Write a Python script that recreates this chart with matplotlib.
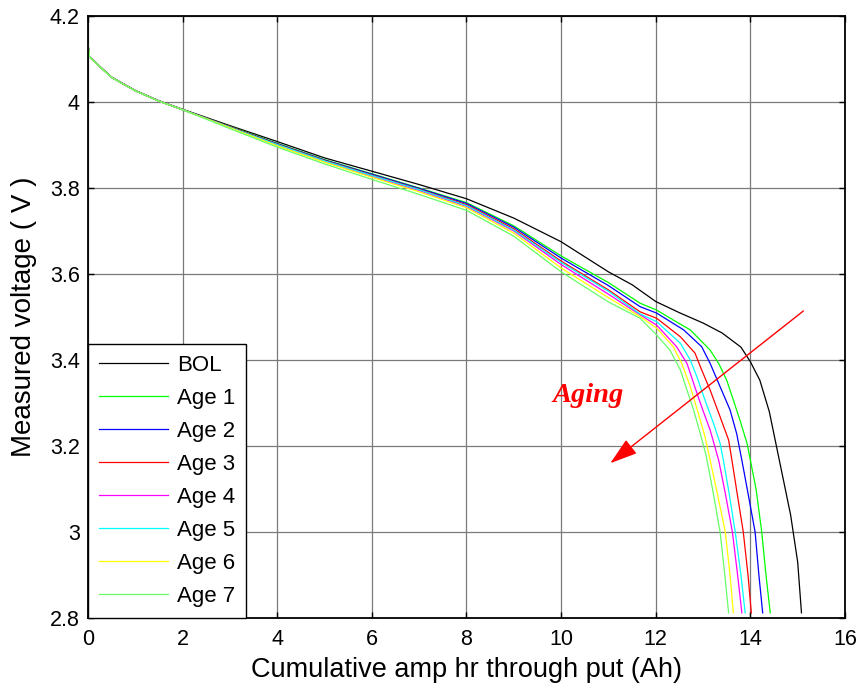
import matplotlib
matplotlib.use("Agg")
import matplotlib.pyplot as plt

plt.rcParams['font.family'] = ['Liberation Sans', 'DejaVu Sans']

# ---------------- data ----------------
x_ticks = [0, 2, 4, 6, 8, 10, 12, 14, 16]
y_ticks = [2.8, 3.0, 3.2, 3.4, 3.6, 3.8, 4.0, 4.2]
y_tick_labels = ['2.8', '3', '3.2', '3.4', '3.6', '3.8', '4', '4.2']

series_names = ['BOL', 'Age 1', 'Age 2', 'Age 3', 'Age 4', 'Age 5', 'Age 6', 'Age 7']
series_colors = ['#000000', '#00ff00', '#0000ff', '#ff0000', '#ff00ff', '#00ffff', '#ffff00', '#66ff66']

bol_x = [0, 0.03, 0.2, 0.5, 1.0, 1.5, 2.0, 3.0, 4.0, 5.0, 6.0, 7.0, 8.0, 9.0, 10.0, 11.0, 11.5,
         12.0, 12.5, 13.0, 13.4, 13.8, 14.0, 14.2, 14.4, 14.55, 14.7, 14.85, 15.0, 15.08]
bol_y = [4.135, 4.105, 4.088, 4.058, 4.027, 4.003, 3.983, 3.945, 3.908, 3.870, 3.839, 3.808, 3.775,
         3.730, 3.675, 3.605, 3.575, 3.536, 3.510, 3.486, 3.463, 3.430, 3.396, 3.353, 3.280, 3.200,
         3.120, 3.040, 2.930, 2.812]

age1_x = [0, 0.03, 0.2, 0.5, 1.0, 1.5, 2.0, 3.0, 4.0, 5.0, 6.0, 7.0, 8.0, 9.0, 10.0, 11.0, 11.67,
          12.02, 12.37, 12.73, 13.15, 13.33, 13.5, 13.64, 13.78, 13.93, 14.0, 14.12, 14.24, 14.33, 14.42]
age1_y = [4.135, 4.105, 4.087, 4.057, 4.026, 4.002, 3.982, 3.943, 3.904, 3.866, 3.833, 3.800, 3.766,
          3.712, 3.642, 3.580, 3.532, 3.516, 3.493, 3.470, 3.423, 3.392, 3.353, 3.307, 3.260, 3.206,
          3.167, 3.100, 3.000, 2.900, 2.812]

age2_x = [0, 0.03, 0.2, 0.5, 1.0, 1.5, 2.0, 3.0, 4.0, 5.0, 6.0, 7.0, 8.0, 9.0, 10.0, 11.0, 11.67,
          12.02, 12.59, 12.97, 13.15, 13.36, 13.57, 13.71, 13.82, 13.95, 14.1, 14.18, 14.26]
age2_y = [4.135, 4.105, 4.087, 4.057, 4.026, 4.002, 3.982, 3.942, 3.903, 3.865, 3.832, 3.799, 3.764,
          3.709, 3.637, 3.573, 3.524, 3.509, 3.470, 3.431, 3.392, 3.338, 3.284, 3.229, 3.167, 3.090,
          3.000, 2.900, 2.812]

age3_x = [0, 0.03, 0.2, 0.5, 1.0, 1.5, 2.0, 3.0, 4.0, 5.0, 6.0, 7.0, 8.0, 9.0, 10.0, 11.0, 11.67,
          12.02, 12.52, 12.83, 12.97, 13.15, 13.36, 13.54, 13.61, 13.72, 13.85, 13.95, 14.02]
age3_y = [4.135, 4.105, 4.087, 4.057, 4.026, 4.002, 3.982, 3.942, 3.902, 3.864, 3.830, 3.797, 3.761,
          3.705, 3.630, 3.563, 3.512, 3.497, 3.454, 3.416, 3.377, 3.330, 3.268, 3.214, 3.167, 3.090,
          3.000, 2.900, 2.812]

age4_x = [0, 0.03, 0.2, 0.5, 1.0, 1.5, 2.0, 3.0, 4.0, 5.0, 6.0, 7.0, 8.0, 9.0, 10.0, 11.0, 11.67,
          12.02, 12.44, 12.66, 12.80, 12.97, 13.15, 13.33, 13.47, 13.62, 13.73, 13.82]
age4_y = [4.135, 4.105, 4.087, 4.057, 4.026, 4.002, 3.982, 3.941, 3.900, 3.862, 3.827, 3.794, 3.757,
          3.700, 3.622, 3.553, 3.505, 3.481, 3.431, 3.392, 3.346, 3.291, 3.237, 3.167, 3.090, 3.000,
          2.900, 2.812]

age5_x = [0, 0.03, 0.2, 0.5, 1.0, 1.5, 2.0, 3.0, 4.0, 5.0, 6.0, 7.0, 8.0, 9.0, 10.0, 11.0, 11.67,
          12.02, 12.52, 12.73, 12.87, 13.04, 13.22, 13.36, 13.43, 13.55, 13.68, 13.80, 13.89]
age5_y = [4.135, 4.105, 4.087, 4.057, 4.026, 4.002, 3.982, 3.941, 3.901, 3.863, 3.829, 3.796, 3.759,
          3.702, 3.627, 3.560, 3.507, 3.489, 3.439, 3.400, 3.361, 3.307, 3.253, 3.206, 3.167, 3.090,
          3.000, 2.900, 2.812]

age6_x = [0, 0.03, 0.2, 0.5, 1.0, 1.5, 2.0, 3.0, 4.0, 5.0, 6.0, 7.0, 8.0, 9.0, 10.0, 11.0, 11.67,
          12.02, 12.37, 12.55, 12.73, 12.90, 13.04, 13.15, 13.30, 13.47, 13.57, 13.64]
age6_y = [4.135, 4.105, 4.087, 4.057, 4.026, 4.002, 3.982, 3.940, 3.898, 3.860, 3.825, 3.791, 3.754,
          3.695, 3.614, 3.545, 3.501, 3.474, 3.431, 3.392, 3.338, 3.276, 3.222, 3.167, 3.090, 3.000,
          2.900, 2.812]

age7_x = [0, 0.03, 0.2, 0.5, 1.0, 1.5, 2.0, 3.0, 4.0, 5.0, 6.0, 7.0, 8.0, 9.0, 10.0, 11.0, 11.67,
          12.02, 12.30, 12.52, 12.66, 12.80, 12.94, 13.06, 13.20, 13.36, 13.46, 13.54]
age7_y = [4.135, 4.105, 4.087, 4.057, 4.026, 4.002, 3.982, 3.938, 3.895, 3.856, 3.820, 3.785, 3.748,
          3.688, 3.605, 3.535, 3.497, 3.458, 3.423, 3.377, 3.330, 3.284, 3.229, 3.180, 3.100, 3.000,
          2.900, 2.812]

arrow_start = (15.12, 3.514)
arrow_end = (11.04, 3.16)
aging_text_pos = (10.57, 3.318)

# ---------------- figure ----------------
fig = plt.figure(figsize=(8.62, 6.9), dpi=100)
ax = fig.add_axes([88 / 862, 72 / 690, 757 / 862, 602 / 690])

all_x = [bol_x, age1_x, age2_x, age3_x, age4_x, age5_x, age6_x, age7_x]
all_y = [bol_y, age1_y, age2_y, age3_y, age4_y, age5_y, age6_y, age7_y]
for xs, ys, name, col in zip(all_x, all_y, series_names, series_colors):
    ax.plot(xs, ys, color=col, lw=0.9, label=name)

ax.set_xlim(0, 16)
ax.set_ylim(2.8, 4.2)
ax.set_xticks(x_ticks)
ax.set_xticklabels([str(v) for v in x_ticks])
ax.set_yticks(y_ticks)
ax.set_yticklabels(y_tick_labels)
ax.grid(True, color='#7a7a7a', lw=0.9, ls='-')
ax.set_axisbelow(True)
ax.tick_params(direction='in', top=True, right=True, length=4, width=1, labelsize=15.5)
ax.tick_params(axis='x', pad=8)
ax.tick_params(axis='y', pad=6)
for sp in ax.spines.values():
    sp.set_linewidth(1.3)
    sp.set_color('black')

ax.set_xlabel('Cumulative amp hr through put (Ah)', fontsize=19.5)
ax.set_ylabel('Measured voltage ( V )', fontsize=20)
ax.xaxis.set_label_coords(0.5, -0.064)
ax.yaxis.set_label_coords(-0.068, 0.5)

leg = ax.legend(loc='lower left', bbox_to_anchor=(0, 0), borderaxespad=0, fontsize=16,
                frameon=True, fancybox=False, handlelength=3.1, handletextpad=0.4,
                labelspacing=0.54, borderpad=0.5)
leg.get_frame().set_edgecolor('black')
leg.get_frame().set_linewidth(1.0)
leg.get_frame().set_alpha(1.0)

ax.annotate('', xy=arrow_end, xytext=arrow_start,
            arrowprops=dict(arrowstyle='-|>,head_length=0.85,head_width=0.27',
                            color='red', lw=1.0, mutation_scale=20, shrinkA=0, shrinkB=0))
ax.text(aging_text_pos[0], aging_text_pos[1], 'Aging', color='red', fontsize=20.5,
        fontstyle='italic', fontweight='bold', family=['Liberation Serif', 'DejaVu Serif'],
        ha='center', va='center')

fig.savefig('out.png', dpi=100)
